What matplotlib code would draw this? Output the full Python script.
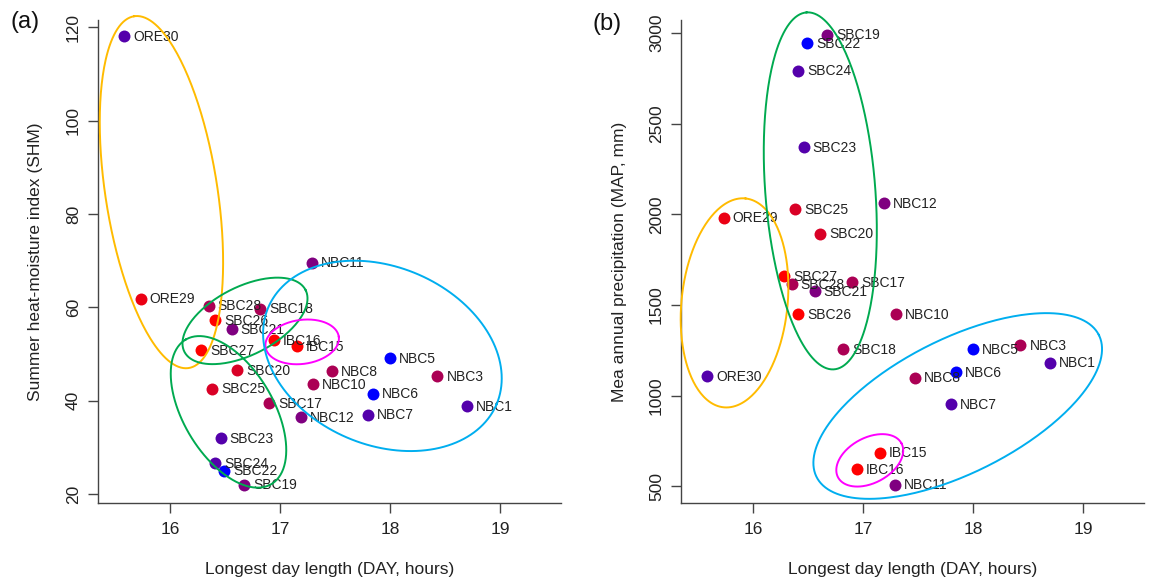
import numpy as np
import matplotlib
matplotlib.use('Agg')
import matplotlib.pyplot as plt
from matplotlib.colors import LinearSegmentedColormap

plt.rcParams.update({
    'font.family': ['Liberation Sans', 'DejaVu Sans'],
    'font.size': 12.5,
    'axes.linewidth': 1.0,
    'axes.edgecolor': '#444444',
    'xtick.color': '#444444',
    'ytick.color': '#444444',
    'xtick.labelcolor': '#222222',
    'ytick.labelcolor': '#222222',
    'xtick.major.size': 7.2,
    'ytick.major.size': 7.2,
    'xtick.major.width': 1.0,
    'ytick.major.width': 1.0,
})

# site, longest day length (h), summer heat-moisture index, annual precipitation (mm)
sites = ['ORE29', 'ORE30',
         'SBC17', 'SBC18', 'SBC19', 'SBC20', 'SBC21', 'SBC22', 'SBC23',
         'SBC24', 'SBC25', 'SBC26', 'SBC27', 'SBC28',
         'NBC1', 'NBC3', 'NBC5', 'NBC6', 'NBC7', 'NBC8', 'NBC10', 'NBC11',
         'NBC12', 'IBC15', 'IBC16']
day = [15.73, 15.58,
       16.90, 16.82, 16.67, 16.61, 16.56, 16.49, 16.46,
       16.41, 16.38, 16.41, 16.28, 16.35,
       18.70, 18.43, 18.00, 17.84, 17.80, 17.47, 17.30, 17.29,
       17.19, 17.15, 16.94]
shm = [61.9, 118.1,
       39.4, 59.7, 22.0, 46.5, 55.4, 25.0, 31.9,
       26.6, 42.6, 57.2, 50.9, 60.4,
       38.8, 45.2, 49.1, 41.5, 37.0, 46.3, 43.6, 69.6,
       36.5, 51.7, 53.0]
map_mm = [1983, 1106,
          1628, 1256, 2992, 1894, 1575, 2946, 2370,
          2794, 2030, 1449, 1658, 1615,
          1182, 1278, 1256, 1130, 954, 1100, 1449, 509,
          2064, 685, 593]
# position of each site on the red -> blue colour ramp
shade = [0.08, 0.67,
         0.33, 0.33, 0.50, 0.15, 0.50, 1.00, 0.67,
         0.67, 0.15, 0.00, 0.00, 0.33,
         0.67, 0.33, 1.00, 1.00, 0.67, 0.33, 0.33, 0.50,
         0.50, 0.00, 0.00]

ramp = LinearSegmentedColormap.from_list('rb', ['#FF0000', '#0000FF'])
colours = [ramp(s) for s in shade]

# group outlines: centre (data), semi-axes (px), tilt (deg), colour
ORANGE, GREEN, CYAN, MAGENTA = '#FFBB00', '#00AA50', '#00AEEF', '#FF00FF'
rings_a = [
    (15.92, 84.7, 178, 56, 98.8, ORANGE),
    (16.68, 57.1, 68, 34, 27, GREEN),
    (16.53, 37.6, 84, 45, 120.7, GREEN),
    (17.20, 52.6, 37, 22, 8, MAGENTA),
    (17.93, 49.6, 124, 89, -23, CYAN),
]
rings_b = [
    (15.83, 1512, 105, 53, 84, ORANGE),
    (16.61, 2130, 179, 55, 94.4, GREEN),
    (17.86, 943, 158, 67, 26.7, CYAN),
    (17.06, 643, 36, 22.6, 28.3, MAGENTA),
]


def ring(ax, cx, cy, a, b, ang, colour):
    """Ellipse defined in screen pixels around a data-space centre."""
    k = ax.figure.dpi / 100.0
    t = np.linspace(0, 2 * np.pi, 300)
    th = np.deg2rad(ang)
    dx = a * k * np.cos(t) * np.cos(th) - b * k * np.sin(t) * np.sin(th)
    dy = a * k * np.cos(t) * np.sin(th) + b * k * np.sin(t) * np.cos(th)
    c = ax.transData.transform((cx, cy))
    pts = ax.transData.inverted().transform(np.column_stack([c[0] + dx, c[1] + dy]))
    ax.plot(pts[:, 0], pts[:, 1], color=colour, lw=1.4, zorder=4, clip_on=False)


def panel(ax, yvals, ylim, yticks, ylabel, rings):
    for x, y, c, name in zip(day, yvals, colours, sites):
        ax.plot(x, y, 'o', color=c, ms=8.6, mew=0, zorder=2)
        ax.annotate(name, (x, y), xytext=(6.5, -0.5), textcoords='offset points',
                    ha='left', va='center', fontsize=10, color='#222222', zorder=3)
    ax.set_xlim(15.343, 19.55)
    ax.set_ylim(*ylim)
    ax.set_xticks([16, 17, 18, 19])
    ax.set_yticks(yticks)
    for lbl in ax.get_yticklabels():
        lbl.set_rotation(90)
        lbl.set_va('center')
    ax.tick_params(axis='x', pad=6)
    ax.tick_params(axis='y', pad=5)
    ax.spines['top'].set_visible(False)
    ax.spines['right'].set_visible(False)
    ax.set_xlabel('Longest day length (DAY, hours)', fontsize=12.5, color='#222222')
    ax.set_ylabel(ylabel, fontsize=12.5, color='#222222')
    ax.xaxis.label.set_va('center')
    ax.yaxis.label.set_va('center')
    ax.xaxis.set_label_coords(0.5, -0.136)
    for r in rings:
        ring(ax, *r)


fig = plt.figure(figsize=(11.53, 5.83), dpi=100)
W, H = 1153, 583
ax_a = fig.add_axes([98 / W, (H - 503.3) / H, 462.5 / W, 483.3 / H])
ax_b = fig.add_axes([681 / W, (H - 503.3) / H, 462.5 / W, 483.3 / H])

panel(ax_a, shm, (18.0, 121.6), [20, 40, 60, 80, 100, 120],
      'Summer heat-moisture index (SHM)', rings_a)
ax_a.yaxis.set_label_coords(-0.136, 0.5)

panel(ax_b, map_mm, (406, 3073), [500, 1000, 1500, 2000, 2500, 3000],
      'Mea annual precipitation (MAP, mm)', rings_b)
ax_b.yaxis.set_label_coords(-0.132, 0.5)

fig.text(10 / W, 1 - 22 / H, '(a)', fontsize=17, va='center', ha='left', color='#111111')
fig.text(593 / W, 1 - 24 / H, '(b)', fontsize=17, va='center', ha='left', color='#111111')

fig.savefig('out.png', dpi=100)
